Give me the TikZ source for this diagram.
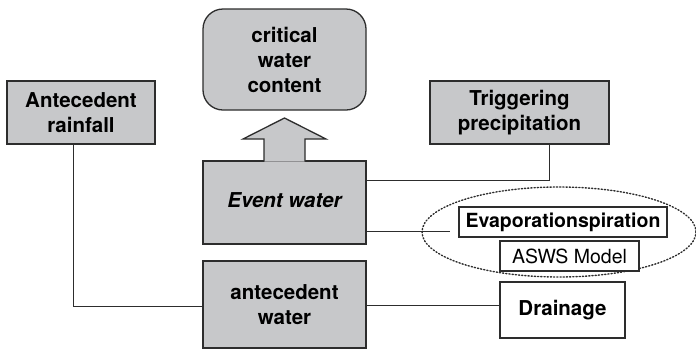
\documentclass[tikz,border=0pt]{standalone}
\usepackage{fontspec}
\usetikzlibrary{shapes.geometric}
\setmainfont{TeX Gyre Heros}
\definecolor{boxgray}{RGB}{199,200,202}
\definecolor{edge}{RGB}{45,45,45}
\tikzset{
  graybox/.style={draw=edge, line width=1.3pt, fill=boxgray, align=center, inner sep=0pt,
    font=\fontsize{20.5}{25}\selectfont\bfseries},
  whitebox/.style={draw=edge, line width=1.3pt, fill=white, align=center, inner sep=0pt,
    font=\fontsize{20.5}{25}\selectfont\bfseries},
  conn/.style={draw=edge, line width=0.9pt},
}
\begin{document}
\begin{tikzpicture}[x=1pt,y=-1pt]
\useasboundingbox (0,0) rectangle (696,349);
\node[graybox, minimum width=148pt, minimum height=63pt] (rain) at (81,112.5) {Antecedent\\rainfall};
\node[graybox, minimum width=163pt, minimum height=101pt, rounded corners=20pt] (crit) at (284.5,59.5) {critical\\water\\content};
\node[graybox, minimum width=179pt, minimum height=63pt] (trig) at (519.5,112.5) {Triggering\\precipitation};
\node[graybox, minimum width=163pt, minimum height=83pt, text depth=4pt] (event) at (284.5,202.5) {\itshape Event water};
\node[graybox, minimum width=163pt, minimum height=87pt] (antw) at (284.5,304.5) {antecedent\\water};
\node[draw=edge, line width=1.4pt, dash pattern=on 1.2pt off 2pt, line cap=round, ellipse, minimum width=274pt, minimum height=90pt, inner sep=0pt] (ell) at (559,232) {};
\node[whitebox, minimum width=208pt, minimum height=30pt, font=\fontsize{19.5}{22}\selectfont\bfseries] (evap) at (563,222) {Evaporationspiration};
\node[whitebox, minimum width=139pt, minimum height=30pt, font=\fontsize{19.5}{22}\selectfont] (asws) at (569.5,256) {ASWS Model};
\node[whitebox, minimum width=125pt, minimum height=56pt] (drain) at (562.5,310) {Drainage};
% block arrow
\draw[draw=edge, line width=1.3pt, fill=boxgray, line join=miter]
  (264,161.6) -- (264,139) -- (243,139) -- (284.5,118) -- (326,139) -- (305,139) -- (305,161.6);
% connectors
\coordinate (c1) at (73,306);
\coordinate (c2) at (549,180);
\coordinate (c3) at (450,231);
\coordinate (c4) at (500,305);
\draw[conn] (c1 |- rain.south) -- (c1) -- (c1 -| antw.west);
\draw[conn] (c2 |- trig.south) -- (c2) -- (c2 -| event.east);
\draw[conn] (c3 -| event.east) -- (c3);
\draw[conn] (c4 -| antw.east) -- (c4 -| drain.west);
\end{tikzpicture}
\end{document}
